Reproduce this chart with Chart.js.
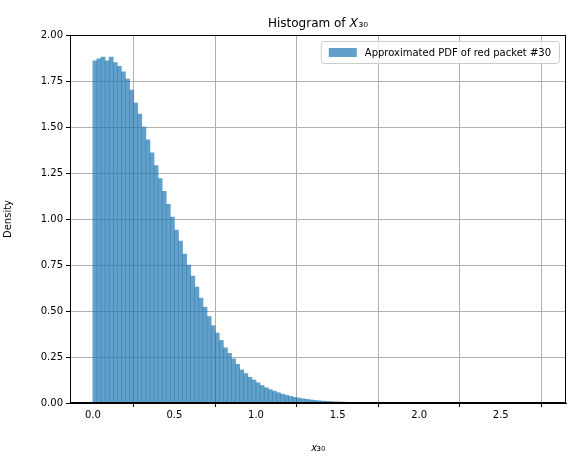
<!DOCTYPE html>
<html><head><meta charset="utf-8">
<script src="https://cdn.jsdelivr.net/npm/chart.js@4"></script>
<style>body{margin:0;background:#fff}#wrap{width:576px;height:457px}</style>
</head><body><div id="wrap"><canvas id="hist"></canvas></div>
<script>
// histogram of X_30, bin width 0.025 starting at 0
const binWidth = 0.025;
const densities = [
  1.86,1.87,1.88,1.86,1.88,1.85,
  1.83,1.80,1.76,1.70, 1.63,1.57,1.50,1.43, 1.36,1.29,1.22,1.15, 1.08,1.01,0.94,0.88,
  0.81,0.75,0.69,0.63, 0.57,0.52,0.47,0.42, 0.38,0.34,0.30,0.27, 0.24,0.21,0.18,0.16,
  0.14,0.125,0.11,0.095, 0.083,0.073,0.064,0.056, 0.048,0.042,0.036,0.031,
  0.027,0.023,0.020,0.017, 0.014,0.012,0.010,0.009, 0.0075,0.0065,0.0055,0.0047,
  0.004,0.0034,0.0029,0.0024, 0.002,0.0017,0.0014,0.0012,
  0.001,0.0008,0.0007,0.0006,0.0005,0.0004,0.0003,0.0003,0.0002,0.0002,
  0.0002,0.0001,0.0001,0.0001,0.0001,0.0001,0.0001,0,0.0001,0,
  0,0.0001,0,0,0,0,0,0,0,0,
  0,0,0,0,0,0,0,0,0,0.0001
];
const xTicks = [0, 0.5, 1.0, 1.5, 2.0, 2.5];
const legendLabel = 'Approximated PDF of red packet #30';
const barColor = 'rgba(31,119,180,0.7)';

const points = densities.map((d, i) => ({x: (i + 0.5) * binWidth, y: d}));
const font = {family: 'DejaVu Sans', size: 10};

const decor = {
  id: 'decor',
  afterDraw(chart) {
    const {ctx, chartArea: a} = chart;
    ctx.save();
    ctx.strokeStyle = '#000'; ctx.lineWidth = 1;
    ctx.strokeRect(a.left + 0.5, a.top + 0.5, a.right - a.left - 1, a.bottom - a.top - 1);
    ctx.fillStyle = '#000'; ctx.textAlign = 'center'; ctx.textBaseline = 'alphabetic';
    ctx.font = '12px DejaVu Sans';
    ctx.fillText('Histogram of 𝑋₃₀', (a.left + a.right) / 2, a.top - 8);
    // legend
    ctx.font = '10px DejaVu Sans';
    const tw = ctx.measureText(legendLabel).width;
    const w = tw + 52, h = 22, x0 = a.right - 7 - w, y0 = a.top + 6;
    ctx.fillStyle = 'rgba(255,255,255,0.8)';
    ctx.strokeStyle = '#ccc';
    ctx.beginPath(); ctx.roundRect(x0 + 0.5, y0 + 0.5, w, h, 3); ctx.fill(); ctx.stroke();
    ctx.fillStyle = barColor;
    ctx.fillRect(x0 + 8, y0 + 7, 28, 9);
    ctx.fillStyle = '#000'; ctx.textAlign = 'left'; ctx.textBaseline = 'middle';
    ctx.fillText(legendLabel, x0 + 44, y0 + 12);
    ctx.restore();
  }
};

new Chart(document.getElementById('hist'), {
  type: 'bar',
  data: {datasets: [{data: points, backgroundColor: barColor, borderWidth: 0,
    barPercentage: 1, categoryPercentage: 1, grouped: false}]},
  options: {
    responsive: true, maintainAspectRatio: false, animation: false,
    layout: {padding: {top: 35, right: 10, left: 0, bottom: 0}},
    plugins: {legend: {display: false}, tooltip: {enabled: false}},
    scales: {
      x: {
        type: 'linear', min: -0.14, max: 2.9, offset: false,
        afterBuildTicks: s => { s.ticks = xTicks.map(v => ({value: v})); },
        afterFit: s => { s.height = 54; },
        grid: {color: '#b0b0b0', tickColor: '#000', tickLength: 4},
        border: {color: '#000'},
        ticks: {font, color: '#000', callback: v => v.toFixed(1), maxRotation: 0, padding: 2},
        title: {display: true, text: '𝑥₃₀', font: {family: 'DejaVu Sans', size: 11}, color: '#000', padding: 2}
      },
      y: {
        min: 0, max: 2.0,
        afterFit: s => { s.width = 70; },
        grid: {color: '#b0b0b0', tickColor: '#000', tickLength: 4},
        border: {color: '#000'},
        ticks: {font, color: '#000', stepSize: 0.25, callback: v => v.toFixed(2), padding: 3},
        title: {display: true, text: 'Density', font, color: '#000', padding: 2}
      }
    }
  },
  plugins: [decor]
});
</script></body></html>
